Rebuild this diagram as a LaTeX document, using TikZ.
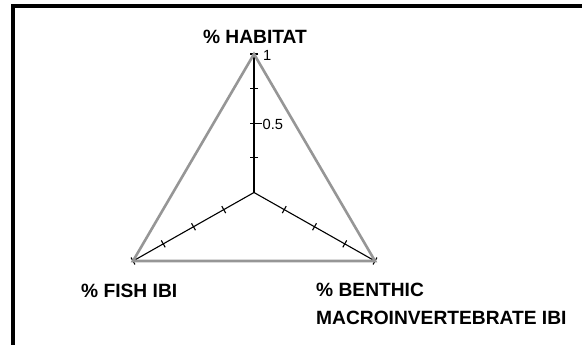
\documentclass[tikz,border=0pt]{standalone}
\usepackage{fontspec}
\setmainfont{Liberation Sans}
\usetikzlibrary{calc}
\definecolor{rimgray}{RGB}{150,150,150}
\begin{document}
\begin{tikzpicture}[x=1pt,y=-1pt,
  axis/.style={draw=black, line width=1.1pt},
  rim/.style={draw=rimgray, line width=2.6pt},
  frameline/.style={draw=black, line width=4pt},
  title/.style={font=\fontsize{19.2}{28}\selectfont\bfseries, inner sep=0pt},
  ticklab/.style={font=\fontsize{14.7}{17}\selectfont, inner sep=0pt, anchor=west}]
\useasboundingbox (0,0) rectangle (582,345);
% frame (top and left only)
\coordinate (TR) at (582,6);
\coordinate (TL) at (13,6);
\coordinate (BL) at (13,345);
\draw[frameline] (TR) -- (TL) -- (BL);
% radar geometry
\coordinate (O) at (254,192.5);
\coordinate (H) at (254,54);
\coordinate (F) at (133,261);
\coordinate (B) at (375,261);
% axes
\draw[axis] (O) -- (H);
\draw[axis] (O) -- (F);
\draw[axis] (O) -- (B);
% ticks
\foreach \v in {H,F,B}{
  \foreach \t in {0.25,0.5,0.75,1}{
    \draw[axis] ($(O)!\t!(\v)!4pt!90:(O)$) -- ($(O)!\t!(\v)!4pt!-90:(O)$);
  }
}
\draw[axis] ($(O)!0.5!(H)$) -- ++(8,0);
% outline
\draw[rim] (H) -- (F) -- (B) -- cycle;
% tick labels
\node[ticklab] (l1) at (263,55.5) {1};
\node[ticklab] (l05) at (262.5,124) {0.5};
% axis titles
\node[title, anchor=base] (th) at (255,43.5) {\% HABITAT};
\node[title, anchor=base west] (tf) at (81,297) {\% FISH IBI};
\node[title, anchor=north west, align=left] (tb) at (316,283) {\% BENTHIC\\MACROINVERTEBRATE IBI};
\end{tikzpicture}
\end{document}
